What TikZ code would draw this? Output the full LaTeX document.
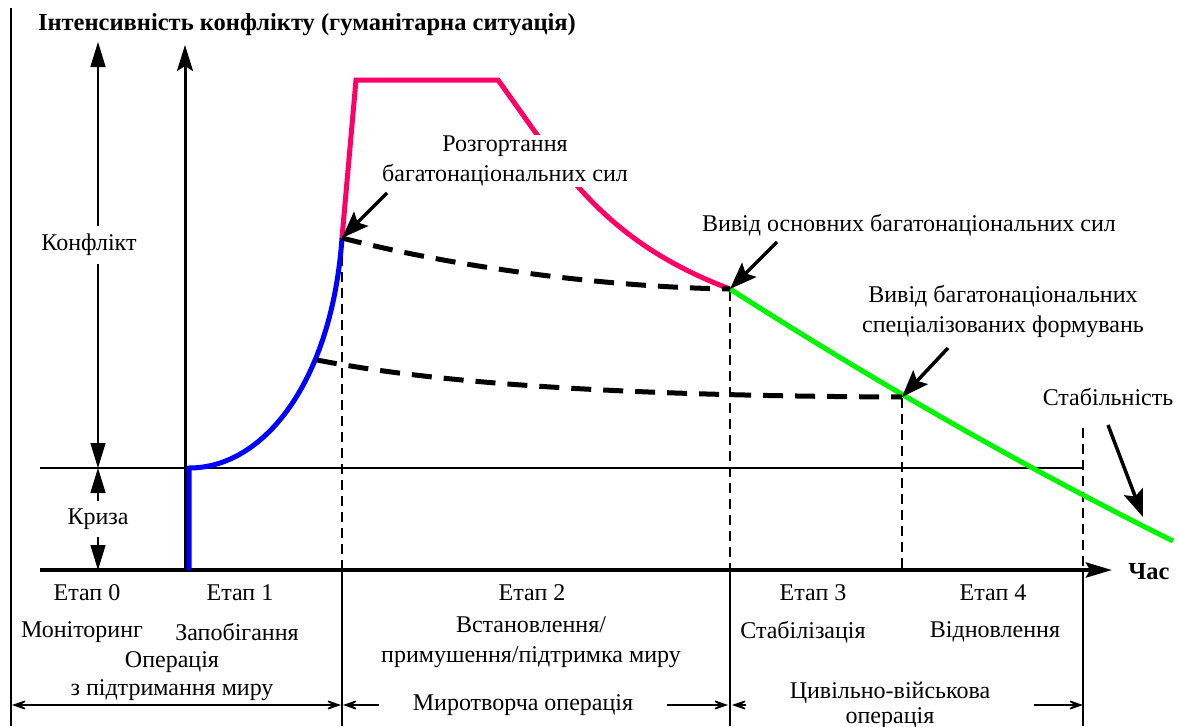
\documentclass[tikz,border=0pt]{standalone}
\usepackage{fontspec}
\setmainfont{Liberation Serif}
\usetikzlibrary{arrows.meta,positioning}
\definecolor{pRed}{RGB}{255,0,102}
\definecolor{pBlue}{RGB}{0,0,255}
\definecolor{pGreen}{RGB}{0,245,0}
\tikzset{
    lbl/.style={inner sep=1pt, align=center, font=\fontsize{24}{30}\selectfont},
    hid/.style={lbl, fill=white},
    bold/.style={lbl, font=\bfseries\fontsize{24.5}{28}\selectfont},
    rule/.style={line width=2pt},
    curv/.style={line width=5pt},
    dsh/.style={line width=5pt, dash pattern=on 20pt off 12pt},
    vdsh/.style={line width=2pt, dash pattern=on 10pt off 6pt},
    callout/.style={line width=3.5pt, -{Stealth[length=27pt,width=20pt,inset=5pt]}},
    dimarr/.style={line width=1.5pt, {Triangle[length=25pt,width=15pt]}-{Triangle[length=25pt,width=15pt]}},
    spanarr/.style={line width=1.5pt, {Stealth[length=20pt,width=14pt,inset=12pt]}-{Stealth[length=20pt,width=14pt,inset=12pt]}}
}

\begin{document}
\begin{tikzpicture}[x=1pt,y=-1pt]
\useasboundingbox (0,0) rectangle (1178,726);
% points of the curves
\coordinate (b0) at (189,570);
\coordinate (b1) at (189,468);
\coordinate (dep) at (342,238);
\coordinate (r1) at (356,80);
\coordinate (r2) at (498,80);
\coordinate (wmain) at (730,289);
\coordinate (wspec) at (902,397);
\coordinate (gend) at (1173,541);
\coordinate (d2) at (317,360);
% frame and axes
\draw[rule] (11,8) -- (11,726);
\draw[rule] (40,468) -- (1083,468);
\draw[line width=4pt, -{Stealth[length=26pt,width=15pt,inset=4pt]}] (40,570) -- (1112,570);
\draw[line width=3pt, -{Stealth[length=26pt,width=16pt,inset=5pt]}] (185,570) -- (185,45);
\foreach \x/\y in {342/240, 730/291, 902/398, 1083/428}
    \draw[vdsh] (\x,\y) -- (\x,570);
\foreach \x in {342,730,1083}
    \draw[rule] (\x,570) -- (\x,726);
% curves
\draw[curv, pBlue] (b0) -- (b1) .. controls (265,468) and (332,380) .. (dep);
\draw[curv, pRed] (dep) -- (r1) -- (r2) .. controls (560,165) and (600,240) .. (wmain);
\draw[curv, pGreen] (wmain) .. controls (880,385) and (1030,470) .. (gend);
\draw[dsh] (dep) .. controls (450,266) and (600,287) .. (wmain);
\draw[dsh] (d2) .. controls (450,386) and (650,396) .. (wspec);
% left scale
\coordinate (k0) at (98,42);
\coordinate (k1) at (98,468);
\coordinate (k2) at (98,570);
\draw[dimarr] (k0) -- (k1);
\draw[dimarr] (k1) -- (k2);
\node[hid, inner ysep=8pt] (konf) at (89,245) {Конфлікт};
\node[hid, inner ysep=8pt] (kryza) at (98,519) {Криза};
\node[bold] (title) at (307,25) {Інтенсивність конфлікту (гуманітарна ситуація)};
\node[bold] (time) at (1149,572) {Час};
% stages
\foreach \x/\n in {87/0,240/1,532/2,813/3,993/4}
    \node[lbl] (st\n) at (\x,593) {Етап \n};
\node[lbl] (mon) at (82,632) {Моніторинг};
\node[lbl] (prev) at (237,632) {Запобігання};
\node[lbl] (estab) at (531,642) {Встановлення/\\примушення/підтримка миру};
\node[lbl] (stab) at (803,632) {Стабілізація};
\node[lbl] (recov) at (995,632) {Відновлення};
\node[lbl, font=\fontsize{24}{28}\selectfont] (psop) at (172,676) {Операція\\з підтримання миру};
% operation spans
\coordinate (s0) at (12,705);
\coordinate (s1) at (341,705);
\coordinate (s2) at (343,705);
\coordinate (s3) at (728,705);
\coordinate (s4) at (732,705);
\coordinate (s5) at (1083,705);
\draw[spanarr] (s0) -- (s1);
\draw[spanarr] (s2) -- (s3);
\draw[spanarr] (s4) -- (s5);
\node[hid, minimum width=288pt] (pko) at (523,705) {Миротворча операція};
\node[hid, minimum width=288pt, font=\fontsize{24}{25}\selectfont] (cimic) at (890,705) {Цивільно-військова\\операція};
% callouts
\node[hid] (deploy) at (505,161) {Розгортання\\багатонаціональних сил};
\node[lbl] (wmainlbl) at (909,225) {Вивід основних багатонаціональних сил};
\node[lbl] (wspeclbl) at (1003,311) {Вивід багатонаціональних\\спеціалізованих формувань};
\node[lbl] (stable) at (1108,397) {Стабільність};
\coordinate (a1) at (387,193);
\coordinate (a2) at (777,242);
\coordinate (a3) at (948,348);
\coordinate (a4) at (1108,425);
\coordinate (a5) at (1143,517);
\draw[callout] (a1) -- (dep);
\draw[callout] (a2) -- (wmain);
\draw[callout] (a3) -- (wspec);
\draw[callout] (a4) -- (a5);
\end{tikzpicture}
\end{document}
